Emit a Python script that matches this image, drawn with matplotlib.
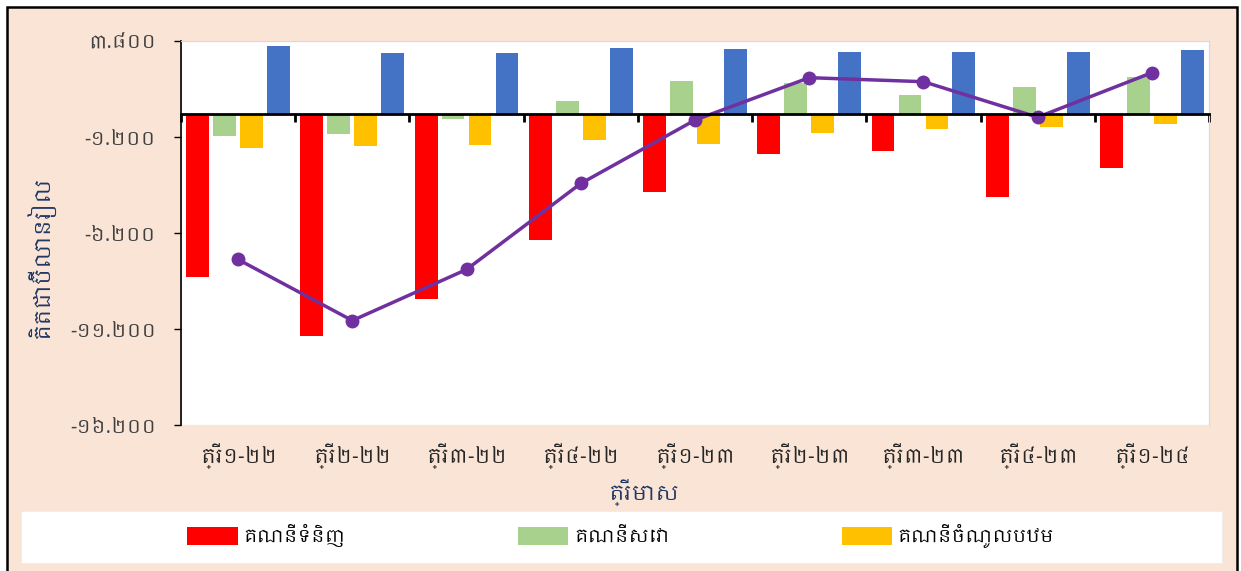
import matplotlib
matplotlib.use("Agg")
import matplotlib.pyplot as plt
import numpy as np
from matplotlib import font_manager
from matplotlib.patches import Rectangle
from matplotlib.ticker import FuncFormatter

# Chercher une police khmère si elle existe
khmerFonts = sorted({f.name for f in font_manager.fontManager.ttflist if 'khmer' in f.name.lower()})
plt.rcParams['font.family'] = khmerFonts[:1] + ['DejaVu Sans']

# Données (milliards de riels)
quarters = ['ត្រី១-២២', 'ត្រី២-២២', 'ត្រី៣-២២', 'ត្រី៤-២២', 'ត្រី១-២៣',
            'ត្រី២-២៣', 'ត្រី៣-២៣', 'ត្រី៤-២៣', 'ត្រី១-២៤']
goods = [-8500, -11540, -9660, -6550, -4040, -2090, -1920, -4330, -2790]
services = [-1160, -1030, -270, 700, 1710, 1620, 1000, 1420, 1940]
primaryIncome = [-1750, -1690, -1620, -1380, -1570, -980, -790, -690, -510]
secondaryIncome = [3550, 3190, 3190, 3410, 3360, 3240, 3240, 3240, 3310]
currentAccount = [-7580, -10760, -8100, -3620, -320, 1890, 1680, -170, 2150]

seriesNames = ['គណនីទំនិញ', 'គណនីសេវា', 'គណនីចំណូលបឋម', 'គណនីចំណូលបន្ទាប់បន្សំ']
yLabel = 'គិតជាប៊ីលានរៀល'
xLabel = 'ត្រីមាស'

khmerDigits = str.maketrans('0123456789', '០១២៣៤៥៦៧៨៩')


def khmerFormat(v, pos):
    return f"{int(round(v)):,}".replace(',', '.').translate(khmerDigits)


W, H = 1241, 571
fig = plt.figure(figsize=(W / 100, H / 100), dpi=100)
fig.patch.set_facecolor('white')

# Cadre extérieur
fig.add_artist(Rectangle((7 / W, -0.02), 1230 / W, (H - 7) / H + 0.02, transform=fig.transFigure,
                         facecolor='#FAE4D6', edgecolor='black', linewidth=1.8, zorder=0))
# Boîte de la légende
fig.add_artist(Rectangle((21 / W, 1 - 563 / H), 1201 / W, 52 / H, transform=fig.transFigure,
                         facecolor='white', edgecolor='#EDEDED', linewidth=0.8, zorder=1))

ax = fig.add_axes([181 / W, 1 - 425 / H, 1028 / W, 384 / H])
ax.set_facecolor('white')

x = np.arange(len(quarters)) + 0.5
pitch = 0.236
barWidth = 0.2
colors = ['#FF0000', '#A9D18E', '#FFC000', '#4472C4']
allSeries = [goods, services, primaryIncome, secondaryIncome]
handles = []
for i, (vals, col, name) in enumerate(zip(allSeries, colors, seriesNames)):
    b = ax.bar(x + (i - 1.5) * pitch, vals, width=barWidth, color=col, label=name, zorder=2)
    handles.append(b)

ax.plot(x, currentAccount, color='#7030A0', linewidth=2.5, marker='o', markersize=9, zorder=4)

ax.set_xlim(0, len(quarters))
ax.set_ylim(-16200, 3800)
ax.set_yticks(np.arange(-16200, 3801, 5000))
ax.yaxis.set_major_formatter(FuncFormatter(khmerFormat))
ax.tick_params(axis='y', direction='out', length=5, width=1, color='black',
               labelsize=14, labelcolor='#404040', pad=13)

# Axe des catégories sur la ligne zéro
ax.spines['bottom'].set_position(('data', 0))
ax.spines['bottom'].set_linewidth(2)
ax.spines['bottom'].set_zorder(5)
ax.set_xticks(np.arange(len(quarters) + 1))
ax.tick_params(axis='x', direction='out', length=6, width=2, labelbottom=False)
for s in ['top', 'right']:
    ax.spines[s].set_color('#D9D9D9')
    ax.spines[s].set_linewidth(0.8)
ax.spines['left'].set_linewidth(1.2)
ax.add_patch(Rectangle((0, 0), 1, 1, transform=ax.transAxes, fill=False,
                       edgecolor='#D9D9D9', linewidth=0.8, zorder=1))

sec = ax.secondary_xaxis(0.0)
sec.set_xticks(x)
sec.set_xticklabels(quarters)
sec.tick_params(length=0, labelsize=14.5, labelcolor='#262626', pad=13)
sec.spines['bottom'].set_visible(False)

fig.text(40 / W, 1 - 257 / H, yLabel, rotation=90, ha='center', va='center',
         fontsize=15.5, color='#1F3864')
fig.text(644 / W, 1 - 492 / H, xLabel, ha='center', va='center', fontsize=15, color='#1F3864')

fig.legend(handles[:3], seriesNames[:3], loc='center left',
           bbox_to_anchor=(171 / W, 1 - 536 / H), ncol=3, frameon=False,
           fontsize=13, handlelength=2.8, handleheight=1.1, handletextpad=0.3,
           columnspacing=9.55)

fig.savefig('out.png', dpi=100, facecolor=fig.get_facecolor())
